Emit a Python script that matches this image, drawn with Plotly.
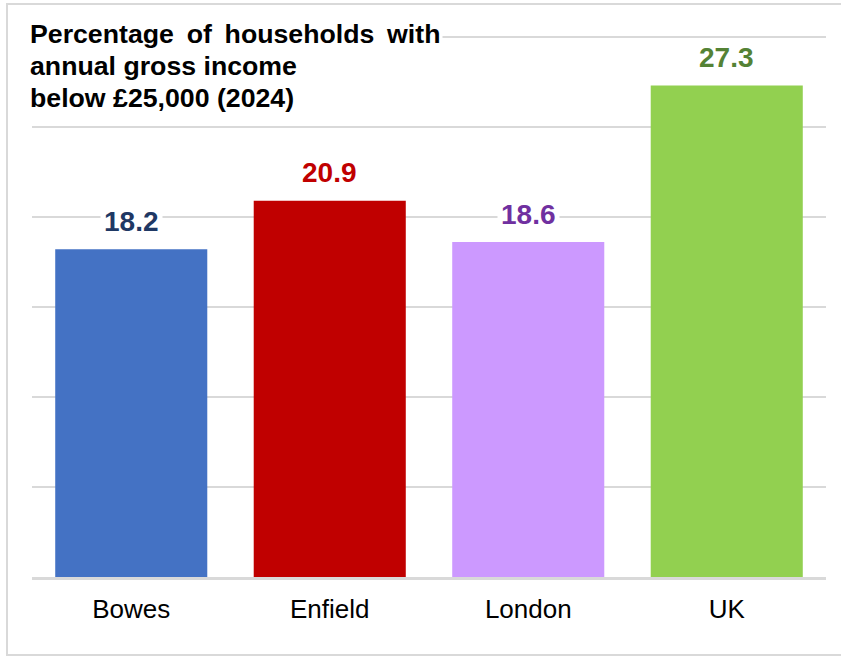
import plotly.graph_objects as go

categories = ["Bowes", "Enfield", "London", "UK"]
values = [18.2, 20.9, 18.6, 27.3]
bar_colors = ["#4472C4", "#C00000", "#CC99FF", "#92D050"]
label_colors = ["#1F3864", "#C00000", "#7030A0", "#548235"]
title_lines = [
    "Percentage \u2009of \u2009households \u2009with",
    "annual gross income",
    "below £25,000 (2024)",
]

FONT = "Liberation Sans, Arial, sans-serif"

W, H = 841, 656
ML, MR, MT, MB = 32, 15, 35, 79
PW, PH = W - ML - MR, H - MT - MB
BASE = H - MB  # page y of the plot-area bottom


def px_x(x):
    return (x - ML) / PW


def px_y(y):
    return (BASE - y) / PH


fig = go.Figure(
    go.Bar(
        x=categories,
        y=values,
        marker=dict(color=bar_colors, line=dict(width=0)),
        hoverinfo="skip",
    )
)

annotations = []
for c, v, col in zip(categories, values, label_colors):
    annotations.append(dict(
        x=c, y=v, xref="x", yref="y",
        text=f"<b>{v:.1f}</b>", showarrow=False,
        yanchor="middle", yshift=28,
        font=dict(family=FONT, size=28, color=col),
        bgcolor="white", borderpad=3,
    ))

for i, line in enumerate(title_lines):
    annotations.append(dict(
        xref="paper", yref="paper", x=px_x(27), y=px_y(34 + 32 * i),
        xanchor="left", yanchor="middle", align="left",
        text=f"<b>{line}</b>", showarrow=False,
        font=dict(family=FONT, size=26.7, color="black"),
        bgcolor="white" if i == 0 else "rgba(0,0,0,0)", borderpad=2,
    ))

fig.update_layout(
    width=W, height=H,
    margin=dict(l=ML, r=MR, t=MT, b=MB),
    paper_bgcolor="white", plot_bgcolor="white",
    bargap=0.234,
    showlegend=False,
    font=dict(family=FONT, size=26, color="black"),
    annotations=annotations,
    shapes=[dict(
        type="rect", xref="paper", yref="paper",
        x0=px_x(7), x1=px_x(850), y0=px_y(655), y1=px_y(4),
        line=dict(color="#D9D9D9", width=2), layer="below",
    )],
)
fig.update_xaxes(
    showline=True, linecolor="#D9D9D9", linewidth=2.5,
    showgrid=False, ticks="", ticklabelstandoff=7,
    tickfont=dict(family=FONT, size=26, color="black"),
)
fig.update_yaxes(
    range=[0, 30.1], dtick=5, showticklabels=False,
    showgrid=True, gridcolor="#D9D9D9", gridwidth=2,
    zeroline=False, showline=False,
)

fig.write_html(
    "out.html",
    config={"displayModeBar": False, "staticPlot": True},
    post_script="document.body.style.margin='0';",
)
